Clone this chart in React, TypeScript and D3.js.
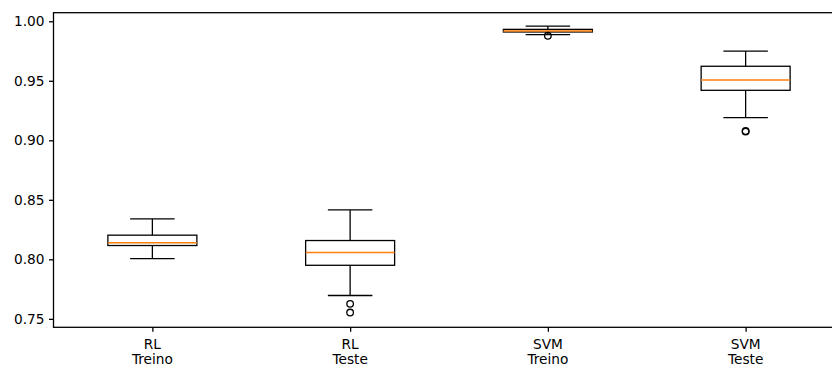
import React, { useRef, useEffect } from 'react';
import * as d3 from 'd3';

// categories (two-line tick labels)
const categories = ['RL\nTreino', 'RL\nTeste', 'SVM\nTreino', 'SVM\nTeste'];

// box stats
const whiskerLow = [0.8006, 0.7696, 0.9887, 0.919];
const q1 = [0.8116, 0.795, 0.991, 0.942];
const medians = [0.814, 0.8057, 0.9919, 0.9507];
const q3 = [0.8203, 0.8158, 0.9932, 0.9622];
const whiskerHigh = [0.834, 0.8415, 0.996, 0.975];
const outliers = [[], [0.7626, 0.7553], [0.9878], [0.9073, 0.9078]];

const yTicks = [0.75, 0.8, 0.85, 0.9, 0.95, 1.0];

const App = () => {
  const svgRef = useRef<SVGSVGElement>(null);

  useEffect(() => {
    const width = 832;
    const height = 367;
    const left = 53.5;
    const right = 844.5; // right spine falls outside the crop
    const top = 12.7;
    const bottom = 327.3;
    const font = 'DejaVu Sans, sans-serif';
    const fs = 13.7;
    const lw = 1.3;

    const x = d3.scaleLinear().domain([0.5, 4.5]).range([left, right]);
    const y = d3.scaleLinear().domain([0.7429, 1.0072]).range([bottom, top]);

    const svg = d3.select(svgRef.current);
    svg.selectAll('*').remove();
    svg.attr('width', width).attr('height', height).attr('viewBox', [0, 0, width, height]);

    svg.append('rect').attr('width', width).attr('height', height).attr('fill', 'white');

    const bw = (x(1.45) - x(1)) / 2; // half box width
    const cw = bw / 2; // half cap width

    const g = svg.append('g');
    categories.forEach((_, i) => {
      const cx = x(i + 1);
      // whiskers
      g.append('line').attr('x1', cx).attr('x2', cx).attr('y1', y(q3[i])).attr('y2', y(whiskerHigh[i]))
        .attr('stroke', 'black').attr('stroke-width', lw);
      g.append('line').attr('x1', cx).attr('x2', cx).attr('y1', y(q1[i])).attr('y2', y(whiskerLow[i]))
        .attr('stroke', 'black').attr('stroke-width', lw);
      // caps
      [whiskerHigh[i], whiskerLow[i]].forEach(v => {
        g.append('line').attr('x1', cx - cw).attr('x2', cx + cw).attr('y1', y(v)).attr('y2', y(v))
          .attr('stroke', 'black').attr('stroke-width', lw);
      });
      // box
      g.append('rect').attr('x', cx - bw).attr('width', bw * 2)
        .attr('y', y(q3[i])).attr('height', y(q1[i]) - y(q3[i]))
        .attr('fill', 'none').attr('stroke', 'black').attr('stroke-width', lw);
      // median
      g.append('line').attr('x1', cx - bw).attr('x2', cx + bw).attr('y1', y(medians[i])).attr('y2', y(medians[i]))
        .attr('stroke', '#ff7f0e').attr('stroke-width', 1.5);
      // fliers
      outliers[i].forEach(v => {
        g.append('circle').attr('cx', cx).attr('cy', y(v)).attr('r', 3.3)
          .attr('fill', 'none').attr('stroke', 'black').attr('stroke-width', 1.3);
      });
    });

    // spines
    svg.append('rect').attr('x', left).attr('y', top).attr('width', right - left).attr('height', bottom - top)
      .attr('fill', 'none').attr('stroke', 'black').attr('stroke-width', lw);

    // y axis
    svg.append('g')
      .attr('transform', `translate(${left},0)`)
      .call(d3.axisLeft(y).tickValues(yTicks).tickFormat(d3.format('.2f')).tickSize(4.5).tickPadding(4.5))
      .call(a => a.select('.domain').remove())
      .call(a => a.selectAll('line').attr('stroke', 'black').attr('stroke-width', lw))
      .call(a => a.selectAll('text').attr('fill', 'black').attr('font-family', font).attr('font-size', fs));

    // x axis
    const xa = svg.append('g')
      .attr('transform', `translate(0,${bottom})`)
      .call(d3.axisBottom(x).tickValues([1, 2, 3, 4]).tickFormat(() => '').tickSize(4.5))
      .call(a => a.select('.domain').remove())
      .call(a => a.selectAll('line').attr('stroke', 'black').attr('stroke-width', lw));

    categories.forEach((c, i) => {
      const t = xa.append('text').attr('x', x(i + 1)).attr('y', 21.5)
        .attr('text-anchor', 'middle').attr('fill', 'black')
        .attr('font-family', font).attr('font-size', fs);
      c.split('\n').forEach((line, k) => {
        t.append('tspan').attr('x', x(i + 1)).attr('dy', k === 0 ? 0 : 15.5).text(line);
      });
    });
  }, []);

  return (
    <svg ref={svgRef} style={{ position: 'absolute', left: 0, top: 0 }}></svg>
  );
};

export default App;
